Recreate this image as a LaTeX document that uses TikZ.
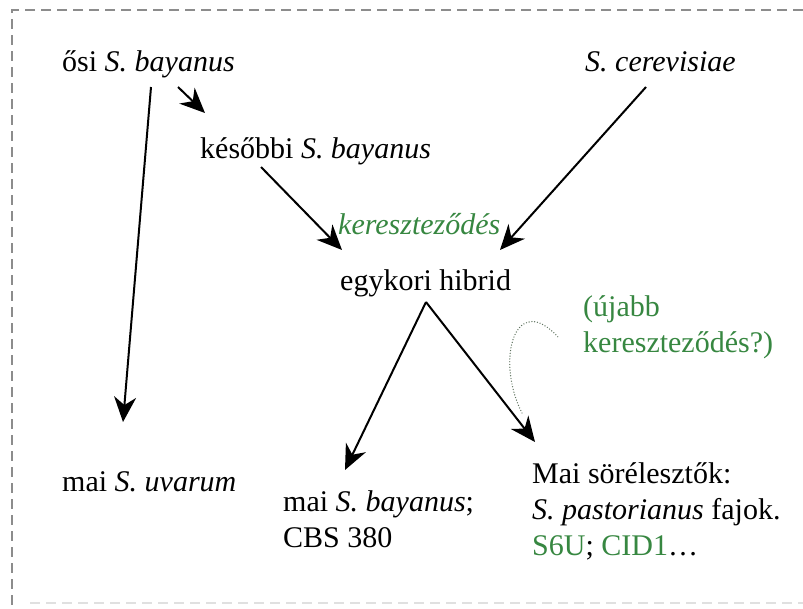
\documentclass[tikz,border=0pt]{standalone}
\usepackage{fontspec}
\setmainfont{Liberation Serif}
\usepackage{xcolor}
\usepackage{tikz}
\usetikzlibrary{arrows.meta}

\definecolor{crossgreen}{RGB}{55,135,65}
\definecolor{framegray}{RGB}{140,140,140}
\definecolor{dotgray}{RGB}{95,115,95}

\begin{document}
\begin{tikzpicture}[x=1pt, y=-1pt,
  txt/.style={anchor=base west, inner sep=0pt, font=\fontsize{30}{36}\selectfont, align=left},
  arr/.style={line width=2pt, -{Stealth[length=25pt, width=22pt, inset=8pt]}}]
  \useasboundingbox (0,0) rectangle (803,608);

  % Frame
  \draw[framegray, line width=1.6pt, dash pattern=on 10pt off 6pt] (803,10) -- (12,10) -- (12,608);
  \draw[black!12, line width=1.5pt, dash pattern=on 10pt off 6pt] (30,603) -- (803,603);

  % Species
  \node[txt] (osi) at (62,71) {ősi \textit{S. bayanus}};
  \node[txt] (cerev) at (585,71) {\textit{S. cerevisiae}};
  \node[txt] (kesobbi) at (200,158) {későbbi \textit{S. bayanus}};
  \node[txt, text=crossgreen, font=\fontsize{30}{36}\selectfont\itshape] (kereszt) at (338,234) {kereszteződés};
  \node[txt] (hibrid) at (340,290) {egykori hibrid};
  \node[txt, text=crossgreen] (ujabb) at (583,352) {(újabb\\kereszteződés?)};

  % Today
  \node[txt] (uvarum) at (62,491) {mai \textit{S. uvarum}};
  \node[txt] (maibay) at (283,547) {mai \textit{S. bayanus};\\CBS 380};
  \node[txt] (sor) at (532,555) {Mai sörélesztők:\\\textit{S. pastorianus} fajok.\\\textcolor{crossgreen}{S6U}; \textcolor{crossgreen}{CID1}\dots};

  % Lines of descent
  \draw[arr] ([xshift=89pt, yshift=-16pt]osi.base west) -- ([xshift=61pt, yshift=69pt]uvarum.base west);
  \draw[arr] ([xshift=116pt, yshift=-16pt]osi.base west) -- ([xshift=5pt, yshift=45pt]kesobbi.base west);
  \draw[arr] ([xshift=61pt, yshift=-9pt]kesobbi.base west) -- ([xshift=2pt, yshift=40pt]hibrid.base west);
  \draw[arr] ([xshift=61pt, yshift=-16pt]cerev.base west) -- ([xshift=160pt, yshift=40pt]hibrid.base west);
  \draw[arr] ([xshift=86pt, yshift=-12pt]hibrid.base west) -- ([xshift=62pt, yshift=77pt]maibay.base west);
  \draw[arr] ([xshift=86pt, yshift=-12pt]hibrid.base west) -- ([xshift=3pt, yshift=113pt]sor.base west);

  % Later crossing
  \coordinate (cross) at ([xshift=-10pt, yshift=142pt]sor.base west);
  \draw[dotgray, line width=1.4pt, line cap=round, dash pattern=on 0pt off 2.8pt]
    (cross) .. controls (495,360) and (515,290) .. ([xshift=-25pt, yshift=15pt]ujabb.base west);
\end{tikzpicture}
\end{document}
